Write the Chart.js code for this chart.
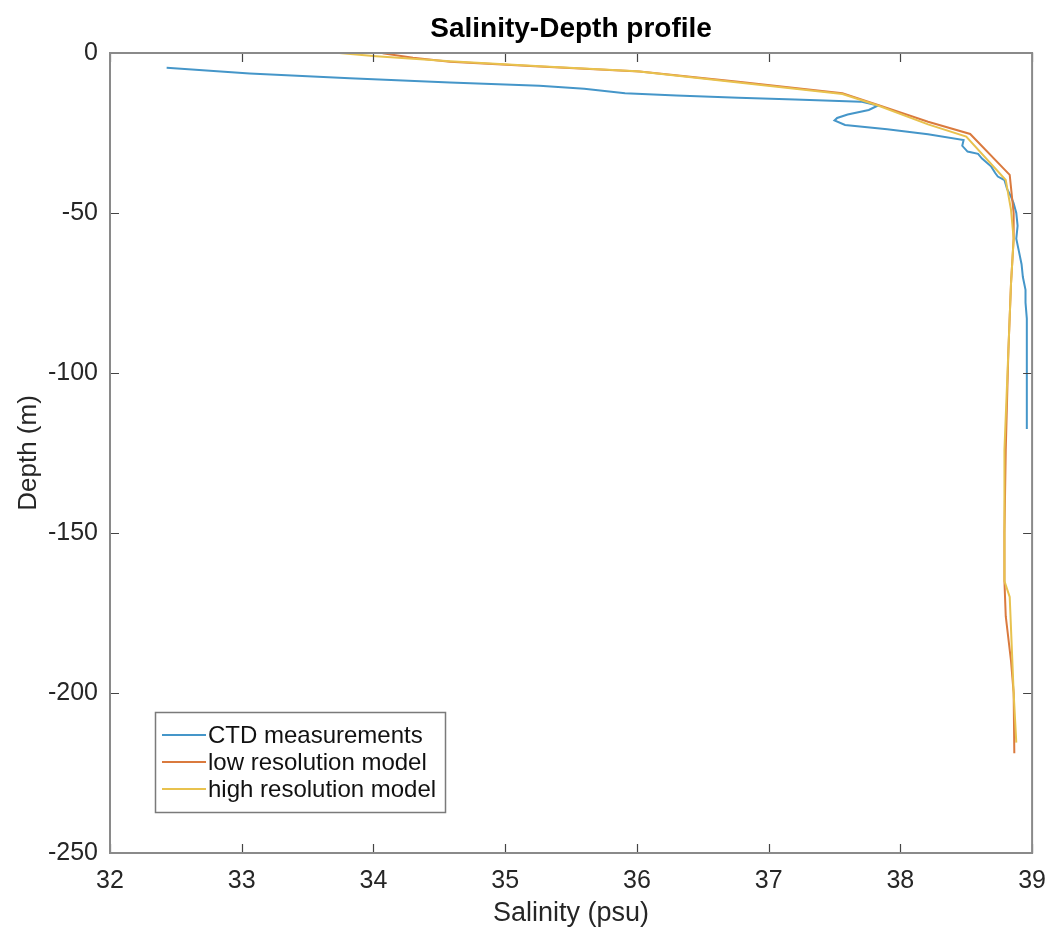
<!DOCTYPE html>
<html><head><meta charset="utf-8">
<script src="https://cdn.jsdelivr.net/npm/chart.js@4.4.1/dist/chart.umd.min.js"></script>
<style>html,body{margin:0;padding:0;background:#fff;overflow:hidden}</style>
</head><body>
<canvas id="c" width="1059" height="940"></canvas>
<script>
const chartTitle = 'Salinity-Depth profile';
const xAxisTitle = 'Salinity (psu)';
const yAxisTitle = 'Depth (m)';
const seriesNames = ['CTD measurements', 'low resolution model', 'high resolution model'];
const seriesColors = ['#4596c9', '#da7a3e', '#e8c24e'];
const xTicks = [32, 33, 34, 35, 36, 37, 38, 39];
const yTicks = [-250, -200, -150, -100, -50, 0];

const ctdSalinity = [32.43, 33.06, 33.82, 34.58, 35.26, 35.6, 35.91, 36.3, 36.77, 37.2, 37.70, 37.83, 37.76, 37.6, 37.52, 37.50, 37.58, 37.9, 38.21, 38.48, 38.47, 38.51, 38.59, 38.62, 38.69, 38.72, 38.74, 38.79, 38.81, 38.84, 38.86, 38.88, 38.89, 38.88, 38.90, 38.92, 38.93, 38.95, 38.95, 38.96, 38.96, 38.96, 38.96, 38.96];
const ctdDepth    = [-4.6, -6.4, -7.9, -9.2, -10.2, -11.2, -12.6, -13.3, -14.0, -14.5, -15.2, -16.4, -17.8, -19.2, -20.3, -21.1, -22.5, -23.8, -25.4, -27.2, -29.0, -30.8, -31.5, -33.0, -35.5, -37.5, -38.6, -39.7, -42.5, -44.9, -47.0, -50.0, -54.0, -58.0, -62.0, -66.0, -70.0, -74.0, -78.0, -83.0, -90.0, -100.0, -110.0, -117.5];

const lowSalinity = [34.07, 34.3, 34.58, 35.3, 36.02, 36.77, 37.56, 37.83, 38.21, 38.53, 38.83, 38.86, 38.86, 38.84, 38.82, 38.80, 38.79, 38.79, 38.80, 38.84, 38.86, 38.865];
const lowDepth    = [-0.1, -1.5, -2.7, -4.3, -5.8, -9.0, -12.6, -16.2, -21.5, -25.3, -38.1, -50.0, -58.0, -72.0, -93.0, -124.0, -150.0, -165.0, -176.0, -190.0, -200.0, -218.8];

const highSalinity = [33.74, 34.02, 34.3, 34.58, 35.3, 36.0, 36.77, 37.56, 37.83, 38.21, 38.50, 38.80, 38.84, 38.86, 38.84, 38.82, 38.79, 38.79, 38.79, 38.83, 38.85, 38.86, 38.88];
const highDepth    = [0.0, -1.0, -1.8, -2.6, -4.2, -5.7, -9.2, -12.8, -16.4, -22.3, -26.1, -39.7, -49.0, -58.0, -72.0, -93.0, -124.0, -150.0, -165.0, -170.0, -190.0, -200.0, -215.5];

const FONT = "'Liberation Sans', Arial, Helvetica, sans-serif";
const toPts = (xs, ys) => xs.map((x, i) => ({x: x, y: ys[i]}));

const mk = (i, xs, ys) => ({
  label: seriesNames[i],
  data: toPts(xs, ys),
  borderColor: seriesColors[i],
  backgroundColor: seriesColors[i],
  borderWidth: 2,
  showLine: true,
  pointRadius: 0,
  tension: 0,
  order: 3 - i
});

const boxAndTicks = {
  id: 'boxAndTicks',
  afterDraw(chart) {
    const {ctx, chartArea: a, scales} = chart;
    ctx.save();
    ctx.strokeStyle = '#444';
    ctx.lineWidth = 1.2;
    const L = 9;
    ctx.beginPath();
    scales.x.ticks.forEach(t => {
      const p = Math.round(scales.x.getPixelForValue(t.value)) + 0.5;
      ctx.moveTo(p, a.bottom); ctx.lineTo(p, a.bottom - L);
      ctx.moveTo(p, a.top); ctx.lineTo(p, a.top + L);
    });
    scales.y.ticks.forEach(t => {
      const p = Math.round(scales.y.getPixelForValue(t.value)) + 0.5;
      ctx.moveTo(a.left, p); ctx.lineTo(a.left + L, p);
      ctx.moveTo(a.right, p); ctx.lineTo(a.right - L, p);
    });
    ctx.stroke();
    ctx.strokeStyle = '#8a8a8a';
    ctx.lineWidth = 2;
    ctx.strokeRect(a.left, a.top, a.right - a.left, a.bottom - a.top);
    // legend inside the axes (south-west)
    const bx = a.left + 45, by = a.bottom - 141, bw = 290, bh = 100;
    ctx.fillStyle = '#fff';
    ctx.fillRect(bx, by, bw, bh);
    ctx.strokeStyle = '#7a7a7a';
    ctx.lineWidth = 1.5;
    ctx.strokeRect(bx + 0.5, by + 0.5, bw, bh);
    ctx.font = '24px ' + FONT;
    ctx.textBaseline = 'middle';
    ctx.textAlign = 'left';
    chart.data.datasets.forEach((ds, i) => {
      const y = by + 23 + i * 27;
      ctx.strokeStyle = ds.borderColor;
      ctx.lineWidth = 2;
      ctx.beginPath(); ctx.moveTo(bx + 7, y); ctx.lineTo(bx + 51, y); ctx.stroke();
      ctx.fillStyle = '#111';
      ctx.fillText(ds.label, bx + 53, y + 1);
    });
    ctx.restore();
  }
};

new Chart(document.getElementById('c'), {
  type: 'scatter',
  data: {
    datasets: [
      mk(0, ctdSalinity, ctdDepth),
      mk(1, lowSalinity, lowDepth),
      mk(2, highSalinity, highDepth)
    ]
  },
  options: {
    responsive: false,
    animation: false,
    devicePixelRatio: 1,
    layout: {padding: {left: 0, right: 24, top: 0, bottom: 0}},
    plugins: {
      legend: {display: false},
      tooltip: {enabled: false},
      title: {
        display: true,
        fullSize: false,
        text: chartTitle,
        color: '#000',
        font: {family: FONT, size: 28, weight: 'bold'},
        padding: {top: 12, bottom: 7.4}
      }
    },
    scales: {
      x: {
        type: 'linear',
        min: 32, max: 39,
        afterBuildTicks: s => { s.ticks = xTicks.map(v => ({value: v})); },
        afterFit: s => { s.height = 87; },
        grid: {display: false, drawTicks: false},
        border: {display: false},
        ticks: {color: '#262626', font: {family: FONT, size: 25}, padding: 13, maxRotation: 0, autoSkip: false},
        title: {display: true, text: xAxisTitle, color: '#262626', font: {family: FONT, size: 27}, padding: {top: 2, bottom: 10}}
      },
      y: {
        type: 'linear',
        min: -250, max: 0,
        afterBuildTicks: s => { s.ticks = yTicks.map(v => ({value: v})); },
        afterFit: s => { s.width = 110; },
        grid: {display: false, drawTicks: false},
        border: {display: false},
        ticks: {color: '#262626', font: {family: FONT, size: 25}, padding: 12, autoSkip: false},
        title: {display: true, text: yAxisTitle, color: '#262626', font: {family: FONT, size: 26}, padding: {top: 13, bottom: 4}}
      }
    }
  },
  plugins: [boxAndTicks]
});
</script>
</body></html>
